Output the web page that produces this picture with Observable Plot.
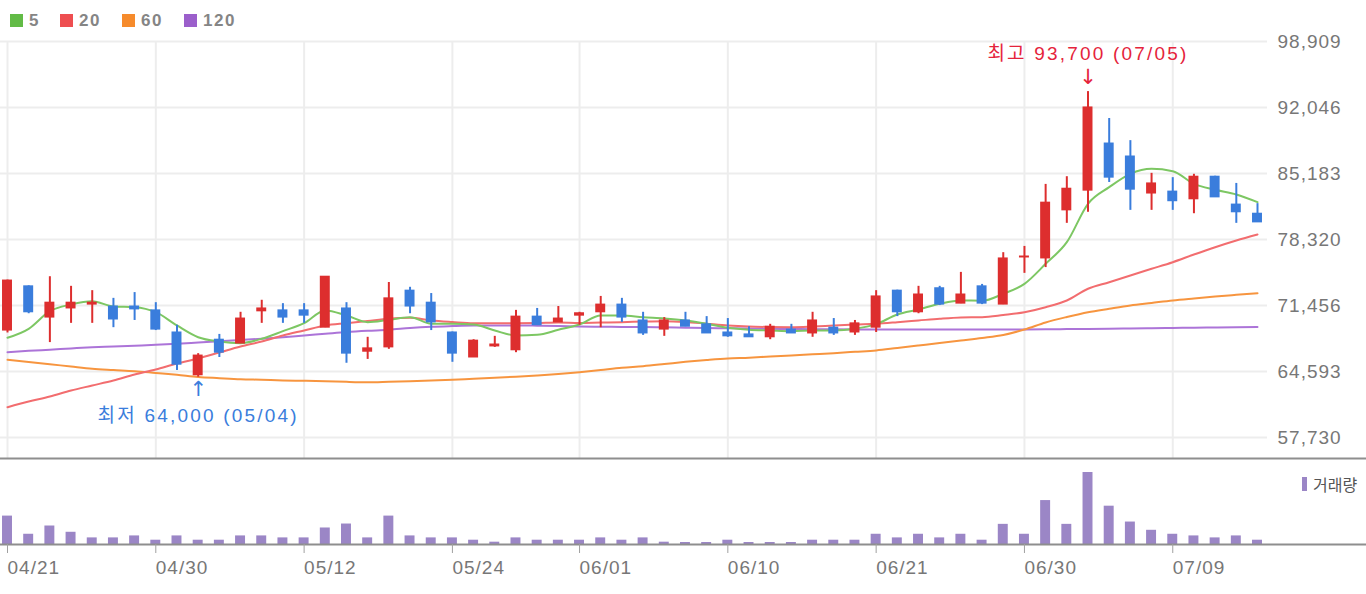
<!DOCTYPE html>
<html><head><meta charset="utf-8">
<script src="https://cdn.jsdelivr.net/npm/d3@7"></script>
<script src="https://cdn.jsdelivr.net/npm/@observablehq/plot@0.6"></script>
<style>
html,body{margin:0;padding:0;background:#fff;width:1366px;height:594px;overflow:hidden;}
#wrap{position:relative;width:1366px;height:594px;font-family:"Liberation Sans",Arial,"Noto Sans CJK KR",sans-serif;}
.lg{position:absolute;top:10px;font-weight:bold;font-size:17px;color:#858585;letter-spacing:1.5px;line-height:21px;display:flex;align-items:center;}
.lg i{display:inline-block;width:13px;height:13px;margin-right:6px;}
#price{position:absolute;left:0;top:0;}
#vol{position:absolute;left:0;top:457px;}
#vlegend{position:absolute;left:1302px;top:474px;font-size:16px;color:#555;display:flex;align-items:center;font-family:"Noto Sans CJK KR",sans-serif;line-height:20px;}
#vlegend i{display:inline-block;width:5px;height:14px;margin-right:6px;}
svg text{letter-spacing:1px;}
svg g.anno text{letter-spacing:2.2px;}
svg g.arrowglyph text{letter-spacing:0;font-family:"DejaVu Sans",sans-serif;}
</style></head>
<body><div id="wrap"><div id="legend"></div><div id="price"></div><div id="vol"></div><div id="vlegend"></div></div>
<script>
// ---- data ----
const dates = ["04/21","04/22","04/23","04/26","04/27","04/28","04/29","04/30","05/03","05/04",
"05/06","05/07","05/10","05/11","05/12","05/13","05/14","05/17","05/18","05/20",
"05/21","05/24","05/25","05/26","05/27","05/28","05/31","06/01","06/02","06/03",
"06/04","06/07","06/08","06/09","06/10","06/11","06/14","06/15","06/16","06/17",
"06/18","06/21","06/22","06/23","06/24","06/25","06/28","06/29","06/30","07/01",
"07/02","07/05","07/06","07/07","07/08","07/09","07/12","07/13","07/14","07/15"];
const tickLabels = ["04/21","04/30","05/12","05/24","06/01","06/10","06/21","06/30","07/09"];
const yTicks = [57730,64593,71456,78320,85183,92046,98909];
const open = [68850,73450,70200,71150,71550,71350,71350,70950,68650,64200,67900,67500,70850,70950,70950,69150,71150,66650,67100,73000,71750,68650,66050,67200,66800,70300,69700,70400,70750,71550,69900,68950,69900,69500,68650,68450,68150,68950,68550,69150,68650,69150,73000,70750,73250,71650,73450,71550,76450,76350,81350,83400,88300,86950,83100,83300,82500,84850,81950,81000];
const high = [74100,73500,74450,73450,73000,72200,72800,71750,69400,66450,68450,70750,72000,71650,71650,74450,71750,68150,73850,73350,72700,68700,67900,68250,70950,71150,71350,70750,72400,72200,70750,70200,70750,70300,70100,69250,69500,69500,70750,70100,69900,73000,73050,73450,73450,74900,73650,76950,77600,84050,84850,93700,90900,88600,85200,84750,85100,84900,84150,82050];
const low = [68600,70600,67600,69600,69600,69150,69900,68850,64700,64000,66050,67500,69600,69600,69600,69150,65450,65850,66900,70600,68850,65550,66050,67100,66550,69400,69700,69400,69150,69700,68350,68250,69250,68550,68150,68150,67900,68550,68150,68350,68350,68650,70300,70600,71450,71650,71550,71550,74800,75400,80000,81150,84250,81350,81350,81350,81000,82700,80000,80100];
const close = [74050,70750,71750,71750,71750,70000,71050,68950,65300,66250,66550,70100,71150,70200,70400,74450,66450,67000,72200,71350,69700,66450,67800,67400,70300,69400,70100,70650,71550,70200,68550,69900,69250,68550,68250,68150,69250,68550,69900,68550,69600,72400,70750,72600,71550,72600,71650,76350,76550,82150,83600,92050,84750,83500,84150,82300,84850,82700,81150,80100];
const volume = [860000,310000,560000,370000,200000,200000,260000,130000,260000,130000,130000,260000,260000,200000,200000,500000,620000,200000,860000,260000,200000,200000,130000,70000,200000,130000,130000,130000,200000,130000,200000,70000,60000,60000,130000,60000,60000,60000,130000,130000,130000,310000,200000,310000,200000,310000,130000,610000,310000,1330000,610000,2180000,1160000,680000,430000,310000,260000,200000,260000,130000];
const ma5 = [68100,69030,70870,71560,71900,71350,71280,70760,69380,68160,67710,67540,68000,68790,69620,70940,70420,69720,69970,70240,69560,69560,69480,68860,68340,68410,68930,69480,70420,70420,70240,70110,69900,69560,69140,68930,68860,68790,68860,68860,69040,69520,70520,71040,71640,71980,71950,72670,73710,75790,78040,82030,83760,85150,85670,85420,84110,83490,83000,82200];
const ma20 = [60880,61470,61990,62620,63140,63660,64280,64800,65430,65950,66570,67190,67710,68340,68860,69380,69620,69850,70080,70180,69900,69740,69620,69620,69620,69640,69690,69640,69690,69720,69790,69830,69740,69560,69380,69270,69220,69200,69270,69380,69480,69560,69720,69900,70080,70210,70240,70470,70760,71280,71980,73200,73880,74580,75270,75960,76760,77520,78220,78840];
const ma60 = [65810,65580,65350,65110,64880,64750,64630,64440,64250,64020,63900,63790,63730,63660,63630,63590,63520,63480,63530,63590,63660,63730,63840,63940,64050,64180,64330,64520,64750,64980,65150,65370,65600,65790,65950,66030,66150,66260,66380,66500,66640,66780,67040,67300,67560,67820,68080,68390,68960,69690,70260,70760,71120,71460,71720,71980,72190,72390,72570,72740];
const ma120 = [66600,66740,66860,66990,67110,67190,67280,67370,67480,67610,67740,67870,68000,68150,68340,68520,68700,68830,68930,69120,69250,69320,69370,69380,69380,69360,69330,69270,69250,69230,69210,69190,69150,69120,69090,69060,69040,69010,68990,68980,68960,68960,68960,68960,68960,68960,68960,68960,68970,68980,69000,69020,69050,69070,69090,69120,69150,69170,69190,69220];
const maNames = ["5","20","60","120"];
const maColors = ["#62bb46","#ee4e50","#f68b2c","#9b5fcb"];
const lineColors = ["#7dc763","#f26d6f","#f7953f","#ac74d8"];
const upColor = "#dd2e2e", downColor = "#3a7ddc", volColor = "#9b86c6";

// ---- build ----
const idx = dates.map((d, i) => i);
const tickIdx = tickLabels.map(t => dates.indexOf(t));
const candles = idx.map(i => ({i, open: open[i], high: high[i], low: low[i], close: close[i]}));
const hw = 0.235;
const fmt = d3.format(",");
const hiI = d3.maxIndex(high), loI = d3.minIndex(low);
const font = "'Liberation Sans', Arial, 'Noto Sans CJK KR', sans-serif";

// legend
const lg = document.getElementById("legend");
const lgLeft = [10, 60, 122, 184];
maNames.forEach((n, k) => {
  const el = document.createElement("div");
  el.className = "lg"; el.style.left = lgLeft[k] + "px";
  el.innerHTML = `<i style="background:${maColors[k]}"></i>${n}`;
  lg.appendChild(el);
});

const maSeries = [ma120, ma60, ma20, ma5];
const maLineColors = [lineColors[3], lineColors[2], lineColors[1], lineColors[0]];

const price = Plot.plot({
  width: 1366, height: 459,
  marginLeft: 0, marginRight: 99, marginTop: 41, marginBottom: 1,
  x: {type: "linear", domain: [0, dates.length - 1], range: [7, 1257], axis: null},
  y: {domain: [yTicks[0], yTicks[yTicks.length - 1]], range: [437, 41]},
  style: {fontFamily: font, fontSize: "19px", background: "transparent", overflow: "visible"},
  marks: [
    Plot.gridY(yTicks, {stroke: "#ededed", strokeOpacity: 1, strokeWidth: 2}),
    Plot.gridX(tickIdx, {stroke: "#ededed", strokeOpacity: 1, strokeWidth: 2}),
    Plot.axisY(yTicks, {anchor: "right", tickSize: 0, tickPadding: 10, tickFormat: fmt, fill: "#777", fontSize: 19, label: null}),
    ...maSeries.map((s, k) => Plot.line(idx, {x: i => i, y: i => s[i], stroke: maLineColors[k], strokeWidth: 2, curve: "monotone-x"})),
    Plot.ruleX(candles.filter(d => d.close >= d.open), {x: "i", y1: "low", y2: "high", stroke: upColor, strokeWidth: 2}),
    Plot.ruleX(candles.filter(d => d.close < d.open), {x: "i", y1: "low", y2: "high", stroke: downColor, strokeWidth: 2}),
    Plot.rect(candles.filter(d => d.close >= d.open), {x1: d => d.i - hw, x2: d => d.i + hw, y1: "open", y2: "close", fill: upColor, insetTop: -0.5, insetBottom: -0.5}),
    Plot.rect(candles.filter(d => d.close < d.open), {x1: d => d.i - hw, x2: d => d.i + hw, y1: "open", y2: "close", fill: downColor, insetTop: -0.5, insetBottom: -0.5}),
    Plot.text([hiI], {x: d => d, y: d => high[d], text: d => `최고 ${fmt(high[d])} (${dates[d]})`, dy: -38, fill: "#e5233b", fontSize: 19, className: "anno"}),
    Plot.text([hiI], {x: d => d, y: d => high[d], text: () => "↓", dy: -14, fill: "#e5233b", fontSize: 21, className: "arrowglyph"}),
    Plot.text([loI], {x: d => d, y: d => low[d], text: d => `최저 ${fmt(low[d])} (${dates[d]})`, dy: 39, fill: "#3a7ddc", fontSize: 19, className: "anno"}),
    Plot.text([loI], {x: d => d, y: d => low[d], text: () => "↑", dy: 12, fill: "#3a7ddc", fontSize: 21, className: "arrowglyph"})
  ]
});
document.getElementById("price").appendChild(price);

const vol = Plot.plot({
  width: 1366, height: 137,
  marginLeft: 0, marginRight: 0, marginTop: 1, marginBottom: 50,
  x: {type: "linear", domain: [0, dates.length - 1], range: [7, 1257]},
  y: {domain: [0, d3.max(volume)], range: [87, 15], axis: null},
  style: {fontFamily: font, fontSize: "19px", background: "transparent", overflow: "visible"},
  marks: [
    Plot.frame({anchor: "top", stroke: "#8e8e8e", strokeWidth: 2}),
    Plot.rect(idx, {x1: i => i - hw, x2: i => i + hw, y1: 0, y2: i => volume[i], fill: volColor}),
    Plot.ruleY([0], {stroke: "#8e8e8e", strokeWidth: 2}),
    Plot.axisX(tickIdx, {anchor: "bottom", tickSize: 9, tickPadding: 7, tickFormat: i => dates[i], textAnchor: "start", stroke: "#a0a0a0", fill: "#777", fontSize: 19, label: null})
  ]
});
document.getElementById("vol").appendChild(vol);

document.getElementById("vlegend").innerHTML = `<i style="background:${volColor}"></i>거래량`;
</script></body></html>
